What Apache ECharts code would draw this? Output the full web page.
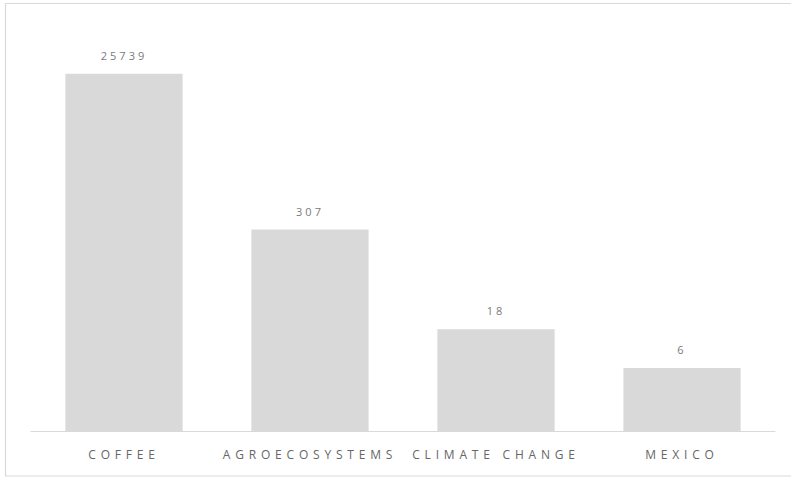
<!DOCTYPE html>
<html>
<head>
<meta charset="utf-8">
<script src="https://cdn.jsdelivr.net/npm/echarts@6/dist/echarts.min.js"></script>
<style>
html,body{margin:0;padding:0;background:#fff;}
#chart{width:791px;height:478px;}
#chart text{letter-spacing:3px;}
#chart text[style*="sans-serif"]{letter-spacing:4.8px;}
</style>
</head>
<body>
<div id="chart"></div>
<script>
var categories = ['COFFEE', 'AGROECOSYSTEMS', 'CLIMATE CHANGE', 'MEXICO'];
var values = [25739, 307, 18, 6];

var chart = echarts.init(document.getElementById('chart'), null, {renderer: 'svg'});
chart.setOption({
  animation: false,
  backgroundColor: '#ffffff',
  graphic: [{
    type: 'rect',
    shape: {x: 5.5, y: 3.5, width: 800, height: 472.5},
    style: {fill: 'none', stroke: '#d9d9d9', lineWidth: 1.2},
    silent: true
  }],
  grid: {left: 31, right: 16, top: 26, bottom: 47},
  xAxis: {
    type: 'category',
    data: categories,
    axisLine: {show: true, lineStyle: {color: '#d9d9d9', width: 1}},
    axisTick: {show: false},
    axisLabel: {color: '#666666', fontSize: 12, fontFamily: 'Open Sans, sans-serif', margin: 17}
  },
  yAxis: {
    type: 'log',
    min: 1,
    max: 100000,
    show: false,
    splitLine: {show: false}
  },
  series: [{
    type: 'bar',
    data: values,
    barWidth: '63%',
    itemStyle: {color: '#d9d9d9'},
    label: {
      show: true,
      position: 'top',
      distance: 13,
      color: '#7a7a7a',
      fontSize: 11,
      fontFamily: 'Open Sans'
    }
  }]
});
</script>
</body>
</html>
